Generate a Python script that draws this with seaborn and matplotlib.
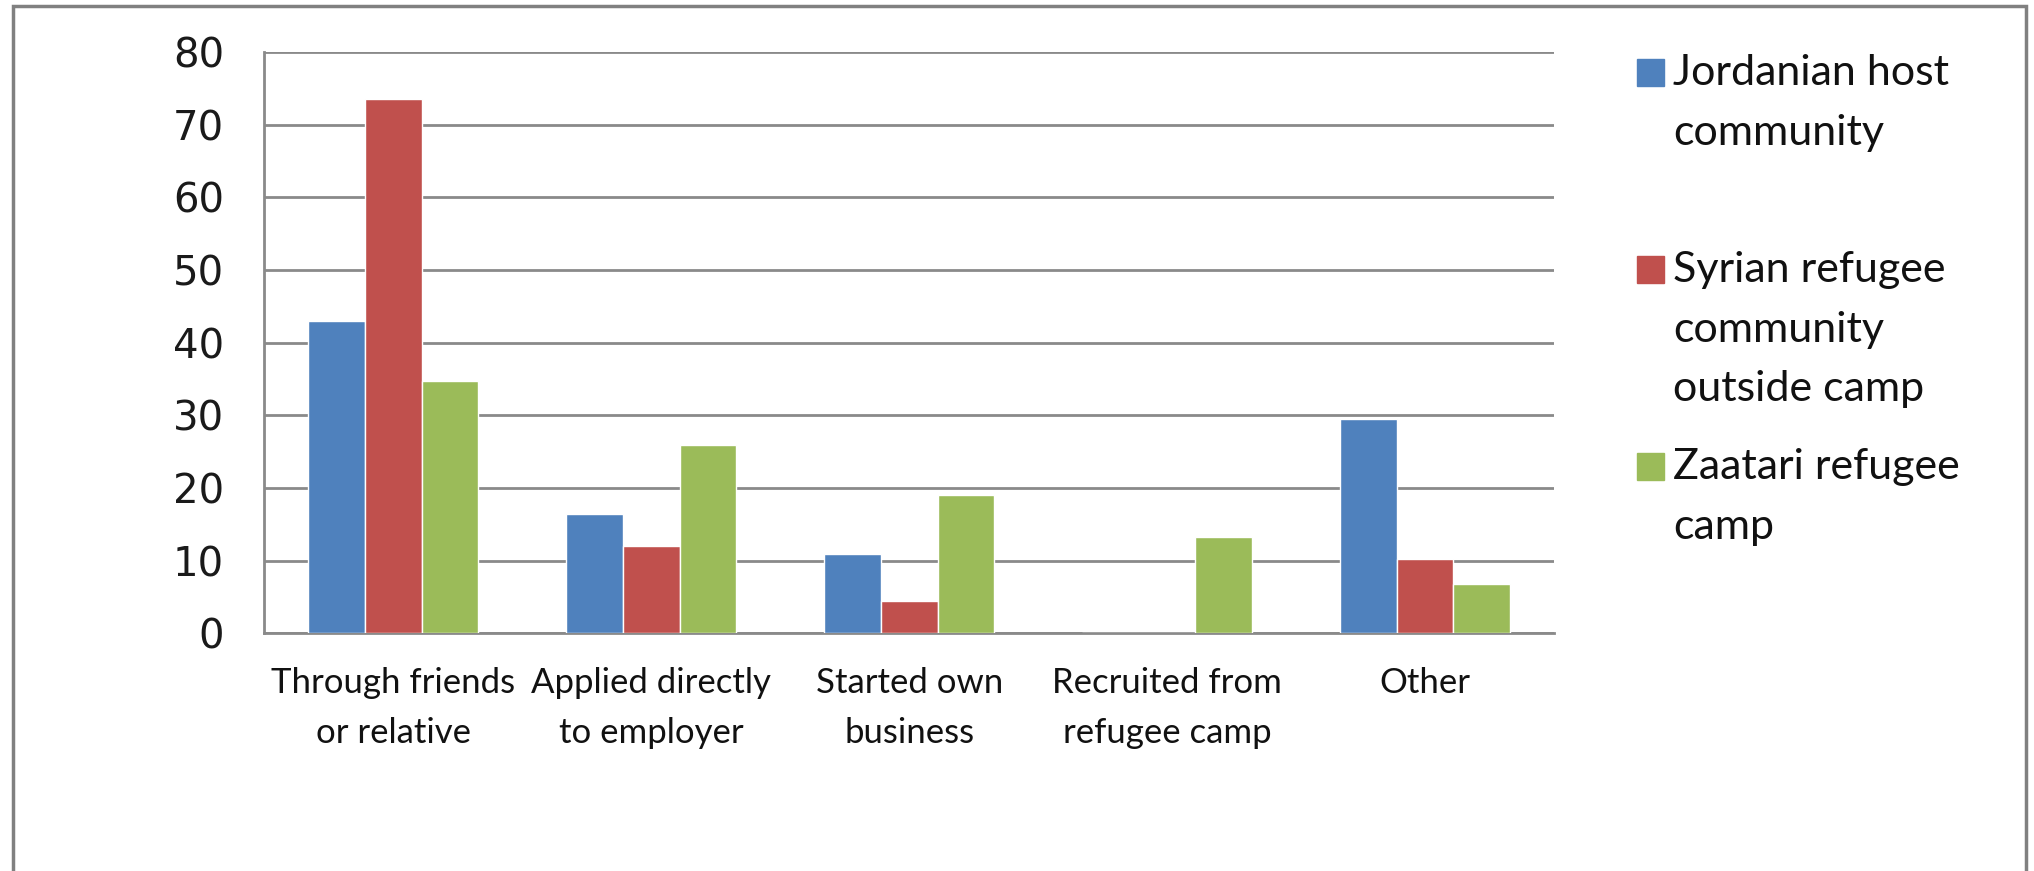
import numpy as np
import pandas as pd
import seaborn as sns
import matplotlib.pyplot as plt
from matplotlib.patches import Rectangle

categories = ['Through friends\nor relative', 'Applied directly\nto employer',
              'Started own\nbusiness', 'Recruited from\nrefugee camp', 'Other']
groups = ['Jordanian host\ncommunity', 'Syrian refugee\ncommunity\noutside camp',
          'Zaatari refugee\ncamp']
jordanian = [43.0, 16.4, 10.9, 0.0, 29.5]
syrian = [73.6, 12.0, 4.5, 0.0, 10.2]
zaatari = [34.8, 25.9, 19.1, 13.2, 6.8]
colors = ['#4F81BD', '#C0504D', '#9BBB59']

rows = []
for g, vals in zip(groups, [jordanian, syrian, zaatari]):
    for c, v in zip(categories, vals):
        rows.append({'method': c, 'group': g, 'pct': v})
df = pd.DataFrame(rows)

sns.set_style('white')
plt.rcParams['font.family'] = ['Lato', 'DejaVu Sans']

fig = plt.figure(figsize=(20.34, 8.71), dpi=100)
ax = fig.add_axes([0.130, 0.273, 0.634, 0.667])

sns.barplot(data=df, x='method', y='pct', hue='group', palette=colors,
            width=0.66, saturation=1, legend=False, ax=ax, zorder=3)

ax.set_ylim(0, 80)
ax.set_xlim(-0.5, 4.5)
ax.set_yticks(range(0, 81, 10))
ax.set_xlabel('')
ax.set_ylabel('')
ax.yaxis.grid(True, color='#8a8a8a', lw=2, zorder=0)
ax.set_axisbelow(True)
for s in ['top', 'right']:
    ax.spines[s].set_visible(False)
for s in ['left', 'bottom']:
    ax.spines[s].set_color('#8a8a8a')
    ax.spines[s].set_linewidth(2)

ax.tick_params(axis='y', length=9, width=2, color='#8a8a8a', pad=20,
               labelsize=29, labelcolor='#1a1a1a')
for t in ax.get_yticklabels():
    t.set_family('DejaVu Sans')
ax.tick_params(axis='x', which='major', length=0, pad=24, labelsize=25,
               labelcolor='#111111')
ax.set_xticks(np.arange(-0.5, 5, 1), minor=True)
ax.tick_params(axis='x', which='minor', length=10, width=2, color='#8a8a8a')
for t in ax.get_xticklabels():
    t.set_linespacing(1.7)

# legend, Excel style
leg_y = [73, 270, 467]
for g, c, y in zip(groups, colors, leg_y):
    fig.add_artist(Rectangle((1637 / 2034, 1 - (y + 13) / 871), 27 / 2034, 27 / 871,
                             transform=fig.transFigure, color=c))
    fig.text(1673 / 2034, 1 - (y - 19) / 871, g, fontsize=31, va='top', ha='left',
             linespacing=1.7, color='#111111')

# outer frame
fig.add_artist(Rectangle((13 / 2034, -0.05), 2013 / 2034, 1.05 - 6 / 871,
                         transform=fig.transFigure, fill=False,
                         edgecolor='#808080', lw=2.5))

plt.savefig('out.png', dpi=100)
